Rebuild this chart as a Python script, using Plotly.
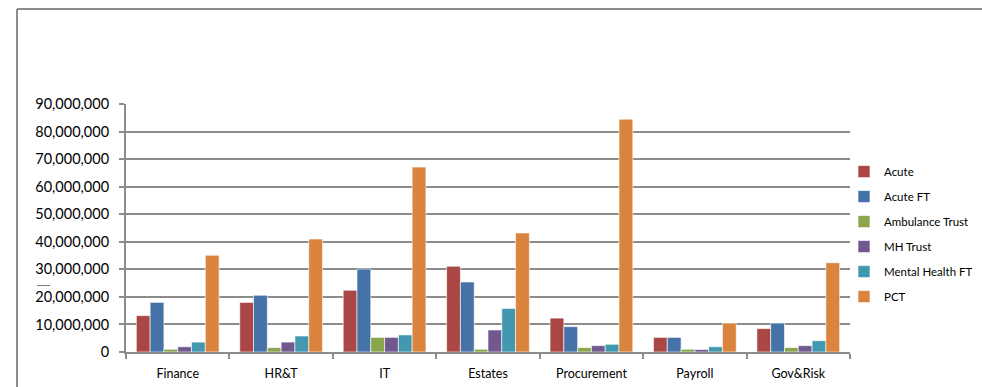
import plotly.graph_objects as go

categories = ["Finance", "HR&T", "IT", "Estates", "Procurement", "Payroll", "Gov&Risk"]
acute = [13.2e6, 18.0e6, 22.4e6, 31.1e6, 12.3e6, 5.3e6, 8.5e6]
acute_ft = [18.0e6, 20.6e6, 30.1e6, 25.4e6, 9.2e6, 5.3e6, 10.5e6]
ambulance_trust = [1.0e6, 1.6e6, 5.3e6, 1.0e6, 1.6e6, 1.0e6, 1.6e6]
mh_trust = [1.9e6, 3.6e6, 5.3e6, 8.0e6, 2.3e6, 0.9e6, 2.3e6]
mental_health_ft = [3.6e6, 5.8e6, 6.2e6, 15.8e6, 2.8e6, 1.9e6, 4.1e6]
pct = [35.1e6, 41.0e6, 67.1e6, 43.2e6, 84.5e6, 10.5e6, 32.4e6]

series = [
    ("Acute", acute, "#AA4643"),
    ("Acute FT", acute_ft, "#4572A7"),
    ("Ambulance Trust", ambulance_trust, "#89A54E"),
    ("MH Trust", mh_trust, "#71588F"),
    ("Mental Health FT", mental_health_ft, "#4198AF"),
    ("PCT", pct, "#DB843D"),
]

fig = go.Figure()
for i, (name, vals, color) in enumerate(series):
    fig.add_trace(go.Bar(
        x=categories, y=vals, name=name, legendgroup=f"g{i}",
        marker=dict(color=color, line=dict(color="white", width=0.6)),
    ))

# paper spans x 126..980 (854 px); plot area 126..850
PW = 854.0
def px(x):
    return (x - 126) / PW

grid = "#8C8C8C"
fig.update_layout(
    width=982, height=387,
    margin=dict(l=126, r=2, t=104, b=35),
    paper_bgcolor="white", plot_bgcolor="white",
    barmode="group", bargap=0.2, bargroupgap=0,
    font=dict(family="Lato, 'Liberation Sans', sans-serif", color="#000000"),
    showlegend=True,
    legend=dict(x=px(844), xanchor="left", y=0.786, yanchor="top",
                font=dict(size=11.5), traceorder="grouped", tracegroupgap=6,
                itemwidth=30, bgcolor="rgba(0,0,0,0)"),
    xaxis=dict(domain=[0, px(850)], showline=True, linecolor=grid, linewidth=2,
               automargin=False,
               ticks="outside", tickson="boundaries", ticklen=5, tickcolor=grid,
               tickwidth=1.5, tickfont=dict(size=12.5), showgrid=False,
               ticklabelstandoff=9),
    yaxis=dict(range=[0, 90e6], dtick=10e6, tickformat=",d", automargin=False,
               showline=True, linecolor=grid, linewidth=2,
               ticks="outside", ticklen=5, tickcolor=grid, tickwidth=1.5,
               showgrid=True, gridcolor=grid, gridwidth=2,
               tickfont=dict(size=14.5), zeroline=False, ticklabelstandoff=7),
)

# outer chart-area border (left and top edges visible)
fig.add_shape(type="line", xref="paper", yref="paper",
              x0=px(17), x1=px(17), y0=-0.2, y1=1.383,
              line=dict(color="#8C8C8C", width=2))
fig.add_shape(type="line", xref="paper", yref="paper",
              x0=px(17), x1=px(1000), y0=1.383, y1=1.383,
              line=dict(color="#8C8C8C", width=2))
# small stray mark near the y axis labels
fig.add_shape(type="line", xref="paper", yref="paper",
              x0=px(37), x1=px(50), y0=0.268, y1=0.268,
              line=dict(color="#777777", width=1))

fig.write_html("out.html")
